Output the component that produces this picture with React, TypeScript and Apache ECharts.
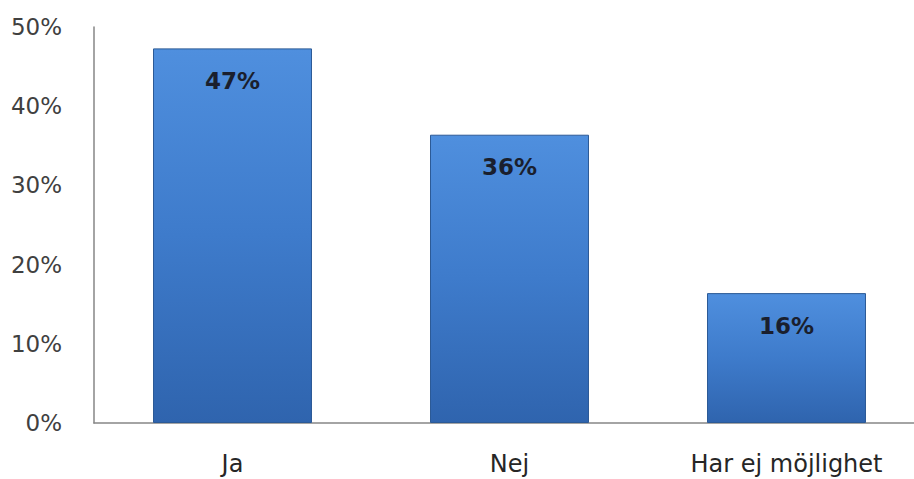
import React, { useEffect, useRef } from "react";
import * as echarts from "echarts";

const categories = ["Ja", "Nej", "Har ej möjlighet"];
const values = [47.3, 36.4, 16.4];
const yTicks = [0, 10, 20, 30, 40, 50];

export default function App() {
  const ref = useRef<HTMLDivElement>(null);
  useEffect(() => {
    if (!ref.current) return;
    const chart = echarts.init(ref.current, undefined, { renderer: "svg" });
    const font = "'DejaVu Sans', sans-serif";
    chart.setOption({
      animation: false,
      backgroundColor: "#ffffff",
      grid: { left: 94, right: 0, top: 27, bottom: 56, containLabel: false },
      xAxis: {
        type: "category",
        data: categories,
        axisLine: { show: true, lineStyle: { color: "#868686", width: 1.5 } },
        axisTick: { show: false },
        axisLabel: {
          color: "#262626",
          fontSize: 24,
          fontFamily: font,
          margin: 29,
        },
      },
      yAxis: {
        type: "value",
        min: 0,
        max: yTicks[yTicks.length - 1],
        interval: 10,
        splitLine: { show: false },
        axisLine: { show: true, lineStyle: { color: "#868686", width: 1.5 } },
        axisTick: { show: false },
        axisLabel: {
          color: "#404040",
          fontSize: 23,
          fontFamily: font,
          margin: 32,
          formatter: (v: number) => `${v}%`,
        },
      },
      series: [
        {
          type: "bar",
          data: values,
          barWidth: "57.4%",
          itemStyle: {
            color: new echarts.graphic.LinearGradient(0, 0, 0, 1, [
              { offset: 0, color: "#4f8fde" },
              { offset: 0.5, color: "#3e7bcb" },
              { offset: 1, color: "#2f64ae" },
            ]),
            borderColor: "#2c5a96",
            borderWidth: 1,
          },
          label: {
            show: true,
            position: "insideTop",
            distance: 21,
            color: "#1a1f2e",
            fontSize: 23,
            fontWeight: "bold",
            fontFamily: font,
            formatter: (p: any) => `${Math.round(p.value)}%`,
          },
        },
      ],
    });
    return () => chart.dispose();
  }, []);
  return (
    <div style={{ position: "fixed", left: 0, top: 0, width: 914, height: 479, overflow: "hidden" }}>
      <div ref={ref} style={{ width: 925, height: 479 }} />
    </div>
  );
}
